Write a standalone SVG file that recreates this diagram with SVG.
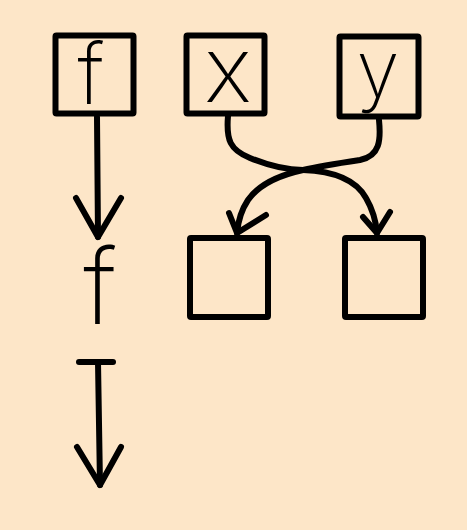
<svg xmlns="http://www.w3.org/2000/svg" width="467" height="530" viewBox="0 0 467 530">
<style>
.box{fill:none;stroke:#000;stroke-width:6;stroke-linejoin:round}
.ln{fill:none;stroke:#000;stroke-width:6;stroke-linecap:round;stroke-linejoin:round}
.lbl{font-family:Inter,"Liberation Sans",sans-serif;font-weight:250;fill:#000;text-anchor:middle}
</style>
<rect width="467" height="530" fill="#FDE6C8"/>
<g id="node-f">
<rect class="box" x="55.5" y="35.5" width="78" height="78" rx="1"/>
<text class="lbl" x="91" y="104" font-size="84">f</text>
</g>
<g id="node-x">
<rect class="box" x="186.5" y="35.5" width="78" height="78" rx="1"/>
<text class="lbl" x="228" y="102" font-size="92">x</text>
</g>
<g id="node-y">
<rect class="box" x="339.5" y="36.5" width="79" height="80" rx="1"/>
<text class="lbl" x="378" y="97" font-size="78">y</text>
</g>
<g id="node-out1">
<rect class="box" x="190" y="238" width="78" height="79" rx="1"/>
</g>
<g id="node-out2">
<rect class="box" x="345" y="238" width="78" height="79" rx="1"/>
</g>
<g id="label-f">
<text class="lbl" x="100" y="324" font-size="105">f</text>
</g>
<g id="connectors">
<path class="ln" d="M97 117 L98 237"/>
<path class="ln" d="M76 198 L98 237 L121 198"/>
<path class="ln" d="M228 116 C226 140 230 150 250 158 C272 167 290 170 303 170 C330 171 355 178 366 198 C373 210 376 222 377 233"/>
<path class="ln" d="M363 217 L377 233 L390 212"/>
<path class="ln" d="M379 120 C381 140 380 156 360 160 C340 163 320 166 303 170 C280 175 260 183 248 200 C240 212 238 222 237 233"/>
<path class="ln" d="M229 213 L237 233 L266 215"/>
<path class="ln" d="M79 362 L113 362"/>
<path class="ln" d="M98 362 L100 485"/>
<path class="ln" d="M77 447 L100 485 L121 447"/>
</g>
</svg>
